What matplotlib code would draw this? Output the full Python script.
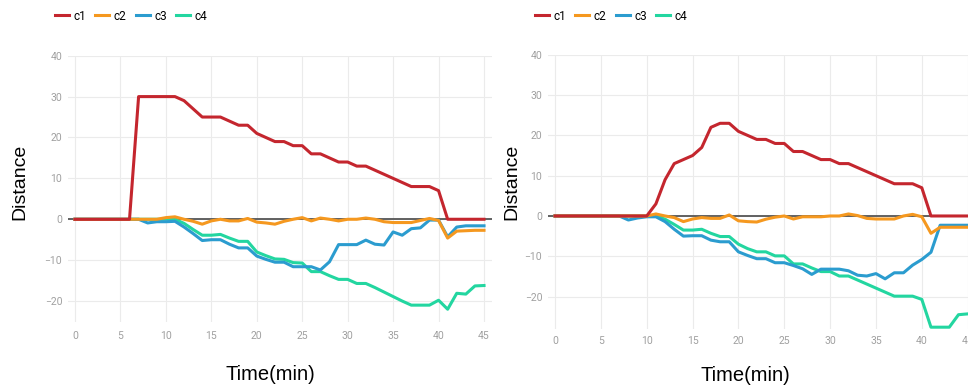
import numpy as np
from matplotlib import pyplot as plt

# time axis in minutes
time = np.arange(0, 46)

# left run
left_c1 = [0, 0, 0, 0, 0, 0, 0, 30, 30, 30, 30, 30, 29, 27, 25, 25, 25, 24, 23, 23,
           21, 20, 19, 19, 18, 18, 16, 16, 15, 14, 14, 13, 13, 12, 11, 10, 9, 8, 8, 8,
           7, 0, 0, 0, 0, 0]
left_c2 = [0, 0, 0, 0, 0, 0, 0, 0, 0, 0, 0.4, 0.6, 0, -0.5, -1.2, -0.4, 0, -0.4, -0.4, 0.2,
           -0.7, -0.9, -1.2, -0.5, 0, 0.4, -0.4, 0.3, 0, -0.4, 0, 0, 0.3, 0, -0.6, -0.8, -0.8, -0.8, -0.3, 0.2,
           -0.3, -4.6, -2.9, -2.8, -2.7, -2.7]
left_c3 = [0, 0, 0, 0, 0, 0, 0, 0, -0.9, -0.6, -0.6, -0.5, -1.9, -3.5, -5.2, -5.0, -5.0, -6.1, -7.0, -7.0,
           -9.0, -9.8, -10.5, -10.5, -11.6, -11.6, -11.6, -12.4, -10.4, -6.2, -6.2, -6.2, -5.1, -6.1, -6.3, -3.1, -3.9, -2.3, -2.1, -0.2,
           -0.2, -4.3, -1.9, -1.6, -1.6, -1.6]
left_c4 = [0, 0, 0, 0, 0, 0, 0, 0, 0, 0, 0, 0, -1.0, -2.5, -3.9, -3.9, -3.7, -4.6, -5.4, -5.4,
           -8.0, -8.9, -9.7, -9.8, -10.6, -10.7, -12.8, -12.8, -13.8, -14.7, -14.7, -15.7, -15.7, -16.7, -17.8, -18.9, -20.0, -21.0, -21.0, -21.0,
           -19.8, -22.0, -18.1, -18.3, -16.3, -16.2]

# right run
right_c1 = [0, 0, 0, 0, 0, 0, 0, 0, 0, 0, 0, 3, 9, 13, 14, 15, 17, 22, 23, 23,
            21, 20, 19, 19, 18, 18, 16, 16, 15, 14, 14, 13, 13, 12, 11, 10, 9, 8, 8, 8,
            7, 0, 0, 0, 0, 0]
right_c2 = [0, 0, 0, 0, 0, 0, 0, 0, 0, 0, 0, 0.5, 0, -0.4, -1.4, -0.75, -0.4, -0.6, -0.6, 0.25,
            -1.2, -1.4, -1.5, -0.8, -0.3, 0, -0.75, -0.2, -0.2, -0.2, 0, 0, 0.5, 0.1, -0.6, -0.75, -0.75, -0.75, 0, 0.4,
            -0.2, -4.3, -2.8, -2.8, -2.8, -2.8]
right_c3 = [0, 0, 0, 0, 0, 0, 0, 0, -1.0, -0.5, -0.2, -0.2, -1.4, -3.3, -5.0, -4.9, -4.9, -6.0, -6.4, -6.4,
            -8.9, -9.8, -10.6, -10.6, -11.6, -11.6, -12.3, -13.1, -14.5, -13.2, -13.2, -13.2, -13.6, -14.7, -14.9, -14.3, -15.6, -14.1, -14.1, -12.2,
            -10.8, -9.0, -2.3, -2.3, -2.3, -2.3]
right_c4 = [0, 0, 0, 0, 0, 0, 0, 0, 0, 0, 0, 0, -0.8, -2.1, -3.5, -3.5, -3.3, -4.3, -5.1, -5.1,
            -7.0, -8.1, -8.9, -8.9, -9.9, -9.9, -11.9, -11.9, -12.9, -13.8, -13.8, -14.9, -14.9, -15.9, -16.9, -17.9, -18.9, -19.9, -19.9, -19.9,
            -20.7, -27.6, -27.6, -27.6, -24.5, -24.3]

labels = ['c1', 'c2', 'c3', 'c4']
colors = ['#c4262e', '#f5981f', '#2b9ccf', '#23d6a0']
x_ticks = [0, 5, 10, 15, 20, 25, 30, 35, 40, 45]
y_ticks = [-20, -10, 0, 10, 20, 30, 40]


def draw_panel(ax, series, ylim, ylabel_pos, xlabel_pos, legend_x, xpad):
    ax.axhline(0, color='#555555', lw=1.3, zorder=1)
    handles = []
    for i, (vals, lab, col) in enumerate(zip(series, labels, colors)):
        h, = ax.plot(time, vals, color=col, lw=2.2, label=lab, zorder=5 - i,
                     solid_joinstyle='round')
        handles.append(h)
    ax.set_xlim(-0.8, 45.9)
    ax.set_ylim(*ylim)
    ax.set_xticks(x_ticks)
    ax.set_yticks(y_ticks)
    ax.grid(True, color='#ebebeb', lw=0.8)
    ax.set_axisbelow(True)
    for s in ax.spines.values():
        s.set_visible(False)
    ax.tick_params(length=0, labelsize=7.5, labelcolor='#a0a0a0')
    ax.tick_params(axis='x', pad=xpad)
    ax.tick_params(axis='y', pad=4)
    for t in ax.get_xticklabels() + ax.get_yticklabels():
        t.set_family('Roboto')
    ax.set_ylabel('Distance', fontsize=14, family='Liberation Sans')
    ax.yaxis.set_label_coords(*ylabel_pos)
    ax.yaxis.label.set_va('center')
    ax.set_xlabel('Time(min)', fontsize=14.5, family='Liberation Sans')
    ax.xaxis.set_label_coords(*xlabel_pos)
    ax.xaxis.label.set_va('center')
    fig.legend(handles=handles, loc='center left', bbox_to_anchor=(legend_x, 1 - 16 / 388),
               ncol=4, frameon=False, handlelength=1.15, handletextpad=0.4,
               columnspacing=0.8, borderpad=0, borderaxespad=0,
               prop={'family': 'Roboto', 'size': 8.5})


fig = plt.figure(figsize=(9.68, 3.88), dpi=100)
ax1 = fig.add_axes([67.7 / 968, 1 - 321.5 / 388, 424.5 / 968, 265.8 / 388])
ax2 = fig.add_axes([547.7 / 968, 1 - 328.8 / 388, 428.2 / 968, 274.0 / 388])

draw_panel(ax1, [left_c1, left_c2, left_c3, left_c4], (-25, 40),
           (-0.112, 0.525), (0.477, -0.201), 55 / 968, 7)
draw_panel(ax2, [right_c1, right_c2, right_c3, right_c4], (-28, 40),
           (-0.083, 0.536), (0.461, -0.169), 535 / 968, 5)

fig.savefig('out.png', dpi=100)
